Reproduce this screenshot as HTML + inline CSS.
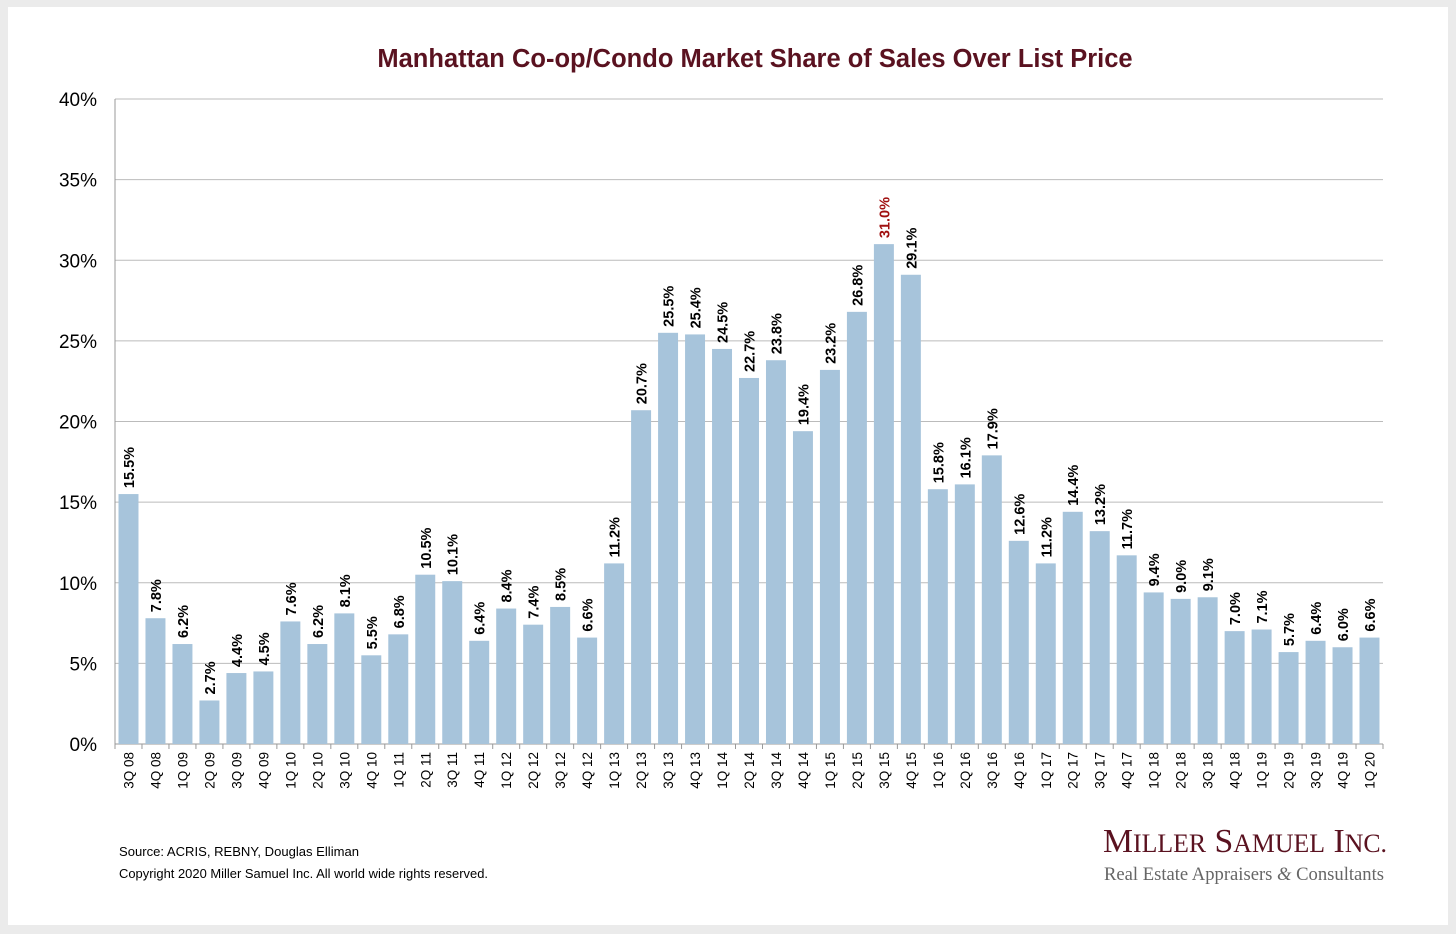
<!DOCTYPE html>
<html><head><meta charset="utf-8"><style>
body{margin:0;background:#ebebeb;width:1456px;height:934px;overflow:hidden;font-family:"Liberation Sans",Arial,sans-serif}
#card{position:absolute;left:8px;top:7px;width:1440px;height:918px;background:#fff}
</style></head><body>
<div id="card"></div>
<svg id="chart" width="1456" height="934" style="position:absolute;left:0;top:0">
<text x="755" y="67" text-anchor="middle" font-size="25.5" font-weight="bold" fill="#5a1220">Manhattan Co-op/Condo Market Share of Sales Over List Price</text>
<g id="grid"></g><g id="bars"></g><g id="labels"></g><g id="xlabels"></g>
<text x="119" y="856" font-size="12.5" textLength="240" lengthAdjust="spacingAndGlyphs" fill="#000">Source: ACRIS, REBNY, Douglas Elliman</text>
<text x="119" y="878" font-size="12.5" textLength="369" lengthAdjust="spacingAndGlyphs" fill="#000">Copyright 2020 Miller Samuel Inc.  All world wide rights reserved.</text>
<text x="1103" y="852" font-family="Liberation Serif,serif" font-size="34" textLength="284" lengthAdjust="spacingAndGlyphs" fill="#5a1220">M<tspan font-size="26">ILLER</tspan> S<tspan font-size="26">AMUEL</tspan> I<tspan font-size="26">NC.</tspan></text>
<text x="1104" y="880" font-family="Liberation Serif,serif" font-size="19" textLength="280" lengthAdjust="spacingAndGlyphs" fill="#666">Real Estate Appraisers <tspan font-style="italic">&amp;</tspan> Consultants</text>
</svg>
<script>
const categories=["3Q 08","4Q 08","1Q 09","2Q 09","3Q 09","4Q 09","1Q 10","2Q 10","3Q 10","4Q 10","1Q 11","2Q 11","3Q 11","4Q 11","1Q 12","2Q 12","3Q 12","4Q 12","1Q 13","2Q 13","3Q 13","4Q 13","1Q 14","2Q 14","3Q 14","4Q 14","1Q 15","2Q 15","3Q 15","4Q 15","1Q 16","2Q 16","3Q 16","4Q 16","1Q 17","2Q 17","3Q 17","4Q 17","1Q 18","2Q 18","3Q 18","4Q 18","1Q 19","2Q 19","3Q 19","4Q 19","1Q 20"];
const values=[15.5,7.8,6.2,2.7,4.4,4.5,7.6,6.2,8.1,5.5,6.8,10.5,10.1,6.4,8.4,7.4,8.5,6.6,11.2,20.7,25.5,25.4,24.5,22.7,23.8,19.4,23.2,26.8,31.0,29.1,15.8,16.1,17.9,12.6,11.2,14.4,13.2,11.7,9.4,9.0,9.1,7.0,7.1,5.7,6.4,6.0,6.6];
const yTicks=[0,5,10,15,20,25,30,35,40];
const NS="http://www.w3.org/2000/svg";
const X0=115,X1=1383,Y0=744,Y40=99;
const bw=(X1-X0)/categories.length;
const y=v=>Y0-(v/40)*(Y0-Y40);
const x=i=>X0+i*bw;
function mk(t,a,p){const e=document.createElementNS(NS,t);for(const k in a)e.setAttribute(k,a[k]);document.getElementById(p).appendChild(e);return e;}
yTicks.forEach(t=>{
 const l=mk('line',{x1:X0,x2:X1,y1:y(t),y2:y(t),stroke:t===0?'#999':'#bbb','stroke-width':1},'grid');
 
 
 const tx=mk('text',{x:97,y:y(t)+7,'text-anchor':'end','font-size':19,fill:'#000'},'grid');
 tx.textContent=t+'%';
 
 
});
const ax=mk('line',{x1:X0,x2:X0,y1:Y40,y2:Y0,stroke:'#999'},'grid');


const maxV=Math.max(...values);
categories.forEach((c,i)=>{
 const v=values[i];
 const tk=mk('line',{x1:x(i),x2:x(i),y1:Y0,y2:Y0+5,stroke:'#999'},'grid');
 
 
 const r=mk('rect',{x:x(i)+3.5,y:y(v),width:bw-7,height:Y0-y(v),fill:'#a7c4db'},'bars');
 
 
 const cx=x(i)+bw/2+5.5, cy=y(v)-6;
 const t=mk('text',{x:cx,y:cy,transform:`rotate(-90 ${cx} ${cy})`,'font-size':14.5,'font-weight':'bold',fill:v===maxV?'#a01010':'#000'},'labels');
 t.textContent=v.toFixed(1)+'%';
 
 
 const lx=x(i)+bw/2+5, ly=Y0+8;
 const xl=mk('text',{x:lx,y:ly,transform:`rotate(-90 ${lx} ${ly})`,'text-anchor':'end','font-size':13.5,fill:'#000'},'xlabels');
 xl.textContent=c;
 
 
});
const tk=mk('line',{x1:X1,x2:X1,y1:Y0,y2:Y0+5,stroke:'#999'},'grid');


</script>
</body></html>
